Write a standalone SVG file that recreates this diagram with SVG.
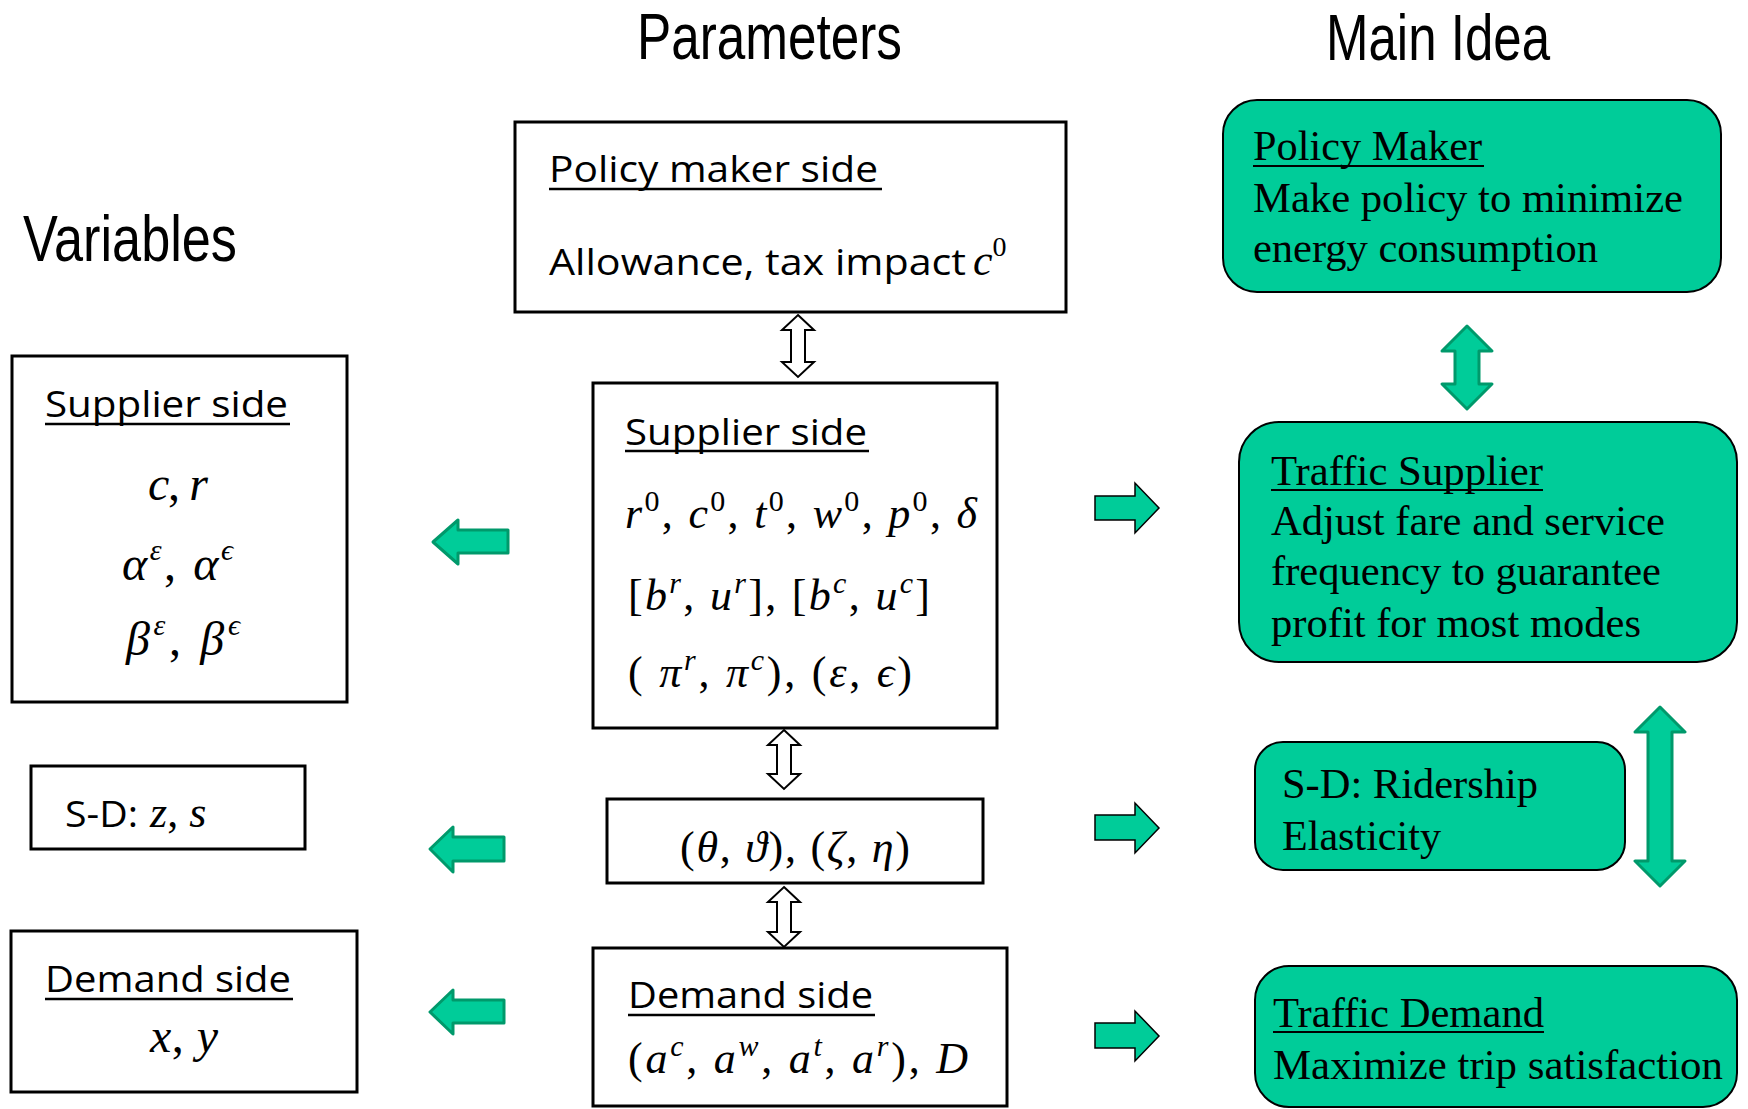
<svg xmlns="http://www.w3.org/2000/svg" width="1748" height="1109" viewBox="0 0 1748 1109">
<style>
.box{fill:#fff;stroke:#000;stroke-width:3}
.gbox{fill:#00CC99;stroke:#000;stroke-width:2}
.title{font-family:"Liberation Sans Narrow","Liberation Sans",Arial,sans-serif;font-size:64px;fill:#000}
.cal{font-family:"Open Sans","Noto Sans",sans-serif;font-size:37px;fill:#000}
.tnr{font-family:"Liberation Serif","Times New Roman",serif;font-size:42px;fill:#000}
.m{font-family:"Liberation Serif","DejaVu Serif",serif;font-style:italic;fill:#000}
.up{font-style:normal}
.ul{stroke:#000;stroke-width:2.5}
.ulg{stroke:#000;stroke-width:2}
.garrow{fill:#00CC99;stroke:#00996B;stroke-width:3;stroke-linejoin:round}
.rarrow{fill:#00CC99;stroke:#000;stroke-width:1.5}
.darrow{fill:#fff;stroke:#000;stroke-width:2}
</style>

<g id="titles">
<text class="title" x="637" y="59" textLength="265" lengthAdjust="spacingAndGlyphs">Parameters</text>
<text class="title" x="1326" y="60" textLength="224" lengthAdjust="spacingAndGlyphs">Main Idea</text>
<text class="title" x="23" y="261" textLength="214" lengthAdjust="spacingAndGlyphs">Variables</text>
</g>

<g id="param-policy">
<rect class="box" x="515" y="122" width="551" height="190"/>
<text class="cal" x="549" y="182" font-size="40" textLength="329" lengthAdjust="spacingAndGlyphs">Policy maker side</text>
<line class="ul" x1="549" y1="189" x2="882" y2="189"/>
<text class="cal" x="549" y="275" font-size="40"><tspan textLength="417" lengthAdjust="spacingAndGlyphs">Allowance, tax impact</tspan><tspan class="m" font-size="44" x="973">c</tspan><tspan class="m up" font-size="28" dy="-19">0</tspan></text>
</g>

<g id="param-supplier">
<rect class="box" x="593" y="383" width="404" height="345"/>
<text class="cal" x="625" y="445" textLength="242" lengthAdjust="spacingAndGlyphs">Supplier side</text>
<line class="ul" x1="625" y1="451" x2="869" y2="451"/>
<text class="m" font-size="44" x="625" y="528" textLength="352">r<tspan class="up" font-size="30" dy="-17">0</tspan><tspan class="up" dy="17">, </tspan>c<tspan class="up" font-size="30" dy="-17">0</tspan><tspan class="up" dy="17">, </tspan>t<tspan class="up" font-size="30" dy="-17">0</tspan><tspan class="up" dy="17">, </tspan>w<tspan class="up" font-size="30" dy="-17">0</tspan><tspan class="up" dy="17">, </tspan>p<tspan class="up" font-size="30" dy="-17">0</tspan><tspan class="up" dy="17">, </tspan>δ</text>
<text class="m" font-size="44" x="628" y="610" textLength="302"><tspan class="up">[</tspan>b<tspan font-size="30" dy="-17">r</tspan><tspan class="up" dy="17">, </tspan>u<tspan font-size="30" dy="-17">r</tspan><tspan class="up" dy="17">], [</tspan>b<tspan font-size="30" dy="-17">c</tspan><tspan class="up" dy="17">, </tspan>u<tspan font-size="30" dy="-17">c</tspan><tspan class="up" dy="17">]</tspan></text>
<text class="m" font-size="44" x="628" y="687" textLength="284"><tspan class="up">( </tspan>π<tspan font-size="30" dy="-17">r</tspan><tspan class="up" dy="17">, </tspan>π<tspan font-size="30" dy="-17">c</tspan><tspan class="up" dy="17">), (</tspan>ε<tspan class="up">, </tspan>ϵ<tspan class="up">)</tspan></text>
</g>

<g id="param-sd">
<rect class="box" x="607" y="799" width="376" height="84"/>
<text class="m" font-size="44" x="680" y="862" textLength="230"><tspan class="up">(</tspan>θ<tspan class="up">, </tspan>ϑ<tspan class="up">), (</tspan>ζ<tspan class="up">, </tspan>η<tspan class="up">)</tspan></text>
</g>

<g id="param-demand">
<rect class="box" x="593" y="948" width="414" height="158"/>
<text class="cal" x="628" y="1008" textLength="245" lengthAdjust="spacingAndGlyphs">Demand side</text>
<line class="ul" x1="628" y1="1015" x2="875" y2="1015"/>
<text class="m" font-size="44" x="628" y="1073" textLength="340"><tspan class="up">(</tspan>a<tspan font-size="30" dy="-17">c</tspan><tspan class="up" dy="17">, </tspan>a<tspan font-size="30" dy="-17">w</tspan><tspan class="up" dy="17">, </tspan>a<tspan font-size="30" dy="-17">t</tspan><tspan class="up" dy="17">, </tspan>a<tspan font-size="30" dy="-17">r</tspan><tspan class="up" dy="17">), </tspan>D</text>
</g>

<g id="var-supplier">
<rect class="box" x="12" y="356" width="335" height="346"/>
<text class="cal" x="45" y="417" textLength="243" lengthAdjust="spacingAndGlyphs">Supplier side</text>
<line class="ul" x1="45" y1="424" x2="290" y2="424"/>
<text class="m" font-size="48" x="148" y="500" textLength="60">c<tspan class="up">, </tspan>r</text>
<text class="m" font-size="48" x="122" y="580" textLength="111">α<tspan font-size="30" dy="-20">ε</tspan><tspan class="up" dy="20">, </tspan>α<tspan font-size="30" dy="-20">ϵ</tspan></text>
<text class="m" font-size="48" x="126" y="655" textLength="114">β<tspan font-size="30" dy="-20">ε</tspan><tspan class="up" dy="20">, </tspan>β<tspan font-size="30" dy="-20">ϵ</tspan></text>
</g>

<g id="var-sd">
<rect class="box" x="31" y="766" width="274" height="83"/>
<text class="cal" x="65" y="827"><tspan textLength="73" lengthAdjust="spacingAndGlyphs">S-D:</tspan><tspan class="m" font-size="44" x="150">z</tspan><tspan font-family="Liberation Serif,serif" font-size="44">, </tspan><tspan class="m" font-size="44">s</tspan></text>
</g>

<g id="var-demand">
<rect class="box" x="11" y="931" width="346" height="161"/>
<text class="cal" x="45" y="992" textLength="246" lengthAdjust="spacingAndGlyphs">Demand side</text>
<line class="ul" x1="45" y1="999" x2="293" y2="999"/>
<text class="m" font-size="48" x="150" y="1052" textLength="68">x<tspan class="up">, </tspan>y</text>
</g>

<g id="idea-policy">
<rect class="gbox" x="1223" y="100" width="498" height="192" rx="34"/>
<text class="tnr" x="1253" y="160" textLength="229" lengthAdjust="spacingAndGlyphs">Policy Maker</text>
<line class="ulg" x1="1253" y1="166" x2="1484" y2="166"/>
<text class="tnr" x="1253" y="212" textLength="430" lengthAdjust="spacingAndGlyphs">Make policy to minimize</text>
<text class="tnr" x="1253" y="262" textLength="345" lengthAdjust="spacingAndGlyphs">energy consumption</text>
</g>

<g id="idea-supplier">
<rect class="gbox" x="1239" y="422" width="498" height="240" rx="40"/>
<text class="tnr" x="1271" y="485" textLength="272" lengthAdjust="spacingAndGlyphs">Traffic Supplier</text>
<line class="ulg" x1="1271" y1="490" x2="1543" y2="490"/>
<text class="tnr" x="1271" y="535" textLength="394" lengthAdjust="spacingAndGlyphs">Adjust fare and service</text>
<text class="tnr" x="1271" y="585" textLength="390" lengthAdjust="spacingAndGlyphs">frequency to guarantee</text>
<text class="tnr" x="1271" y="637" textLength="370" lengthAdjust="spacingAndGlyphs">profit for most modes</text>
</g>

<g id="idea-sd">
<rect class="gbox" x="1255" y="742" width="370" height="128" rx="28"/>
<text class="tnr" x="1282" y="798" textLength="256" lengthAdjust="spacingAndGlyphs">S-D: Ridership</text>
<text class="tnr" x="1282" y="850" textLength="159" lengthAdjust="spacingAndGlyphs">Elasticity</text>
</g>

<g id="idea-demand">
<rect class="gbox" x="1255" y="966" width="482" height="141" rx="34"/>
<text class="tnr" x="1273" y="1027" textLength="271" lengthAdjust="spacingAndGlyphs">Traffic Demand</text>
<line class="ulg" x1="1273" y1="1032" x2="1544" y2="1032"/>
<text class="tnr" x="1273" y="1079" textLength="450" lengthAdjust="spacingAndGlyphs">Maximize trip satisfaction</text>
</g>

<g id="connectors">
<path class="darrow" d="M798,315 L814,330 L805,330 L805,362 L814,362 L798,377 L782,362 L791,362 L791,330 L782,330 Z"/>
<path class="darrow" d="M784,730 L800,745 L791,745 L791,774 L800,774 L784,789 L768,774 L777,774 L777,745 L768,745 Z"/>
<path class="darrow" d="M784,887 L800,902 L791,902 L791,932 L800,932 L784,947 L768,932 L777,932 L777,902 L768,902 Z"/>
<polygon class="garrow" points="433,542 458,520 458,530 508,530 508,553 458,553 458,564"/>
<polygon class="garrow" points="430,849 453,827 453,837 504,837 504,861 453,861 453,872"/>
<polygon class="garrow" points="430,1012 453,990 453,1000 504,1000 504,1023 453,1023 453,1034"/>
<polygon class="rarrow" points="1095,496 1135,496 1135,483 1159,508 1135,533 1135,520 1095,520"/>
<polygon class="rarrow" points="1095,815 1135,815 1135,803 1159,828 1135,853 1135,840 1095,840"/>
<polygon class="rarrow" points="1095,1023 1135,1023 1135,1011 1159,1036 1135,1061 1135,1048 1095,1048"/>
<path class="garrow" d="M1467,326 L1492,351 L1479,351 L1479,384 L1492,384 L1467,409 L1442,384 L1455,384 L1455,351 L1442,351 Z"/>
<path class="garrow" d="M1660,707 L1685,732 L1672,732 L1672,861 L1685,861 L1660,886 L1635,861 L1648,861 L1648,732 L1635,732 Z"/>
</g>
</svg>
